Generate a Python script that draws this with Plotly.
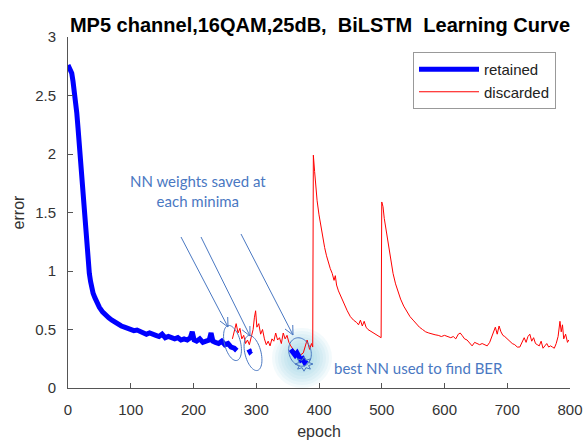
import numpy as np
import plotly.graph_objects as go

# ---------------- data ----------------
ret1_epoch = [0, 2, 4, 6, 8, 10, 12, 14, 16, 18, 20, 22, 24, 26, 28, 30, 32, 34, 36, 38,
              40, 43, 46, 50, 55, 60, 65, 70, 75, 80, 85, 90, 95, 100, 105, 110, 115, 120,
              125, 130, 135, 140, 145, 150, 155, 160, 165, 170, 175, 180, 185, 190, 195,
              198, 201, 205, 210, 215, 220, 225, 228, 231, 235, 240, 245, 250, 255, 260,
              265, 269]
ret1_err = [2.76, 2.74, 2.72, 2.69, 2.62, 2.55, 2.45, 2.35, 2.22, 2.08, 1.95, 1.78, 1.62,
            1.47, 1.33, 1.20, 1.08, 0.98, 0.91, 0.85, 0.81, 0.77, 0.73, 0.69, 0.65, 0.62,
            0.60, 0.58, 0.56, 0.545, 0.53, 0.52, 0.51, 0.50, 0.49, 0.495, 0.48, 0.47, 0.46,
            0.47, 0.455, 0.45, 0.44, 0.46, 0.43, 0.44, 0.43, 0.42, 0.43, 0.41, 0.42, 0.41,
            0.43, 0.48, 0.41, 0.40, 0.42, 0.39, 0.40, 0.41, 0.47, 0.40, 0.39, 0.38, 0.40,
            0.37, 0.38, 0.35, 0.34, 0.32]
ret2_epoch = [288, 290, 292]
ret2_err = [0.33, 0.31, 0.32]
ret3_epoch = [355, 358, 362, 365, 368, 371, 374, 377, 380]
ret3_err = [0.33, 0.30, 0.28, 0.30, 0.26, 0.24, 0.25, 0.22, 0.24]

disc_epoch = [262, 265, 268, 271, 274, 277, 280, 283, 286, 289, 292, 295, 297, 299, 301,
              304, 307, 310, 313, 316, 319, 322, 325, 328, 331, 334, 337, 340, 343, 346,
              349, 352, 355, 360, 365, 370, 375, 381, 385, 388, 390, 391, 393, 395, 397,
              400, 403, 406, 409, 412, 415, 418, 421, 424, 426, 428, 431, 435, 440, 445,
              450, 455, 460, 463, 466, 469, 472, 475, 478, 481, 484, 487, 490, 493, 496,
              499, 500, 502, 504, 507, 510, 514, 518, 522, 526, 530, 535, 540, 545, 550,
              555, 560, 565, 570, 575, 580, 585, 590, 595, 600, 605, 610, 614, 618, 622,
              625, 628, 632, 636, 640, 644, 648, 652, 656, 660, 664, 668, 672, 675, 678,
              681, 684, 687, 690, 693, 696, 700, 704, 708, 712, 716, 720, 724, 727, 730,
              733, 736, 739, 742, 745, 748, 751, 754, 757, 760, 763, 766, 769, 772, 775,
              778, 781, 784, 786, 788, 790, 793, 796, 798]
disc_err = [0.42, 0.50, 0.55, 0.47, 0.51, 0.42, 0.45, 0.38, 0.41, 0.37, 0.44, 0.50, 0.60,
            0.66, 0.52, 0.55, 0.46, 0.50, 0.42, 0.37, 0.40, 0.36, 0.42, 0.40, 0.47, 0.41,
            0.43, 0.38, 0.47, 0.42, 0.45, 0.39, 0.36, 0.32, 0.30, 0.28, 0.30, 0.41, 0.33,
            0.38, 0.35, 1.99, 1.85, 1.70, 1.60, 1.48, 1.38, 1.28, 1.20, 1.13, 1.07, 1.02,
            0.98, 0.92, 0.96, 0.88, 0.83, 0.78, 0.72, 0.66, 0.61, 0.58, 0.56, 0.54, 0.58,
            0.53, 0.57, 0.52, 0.50, 0.49, 0.48, 0.47, 0.46, 0.45, 0.44, 0.43, 1.59, 1.55,
            1.45, 1.35, 1.26, 1.12, 0.98, 0.89, 0.82, 0.76, 0.70, 0.65, 0.61, 0.58, 0.55,
            0.52, 0.50, 0.48, 0.47, 0.46, 0.455, 0.45, 0.44, 0.45, 0.44, 0.43, 0.44, 0.42,
            0.46, 0.47, 0.45, 0.42, 0.41, 0.38, 0.36, 0.39, 0.38, 0.37, 0.38, 0.37, 0.36,
            0.39, 0.44, 0.48, 0.52, 0.46, 0.53, 0.48, 0.45, 0.44, 0.42, 0.40, 0.38, 0.37,
            0.35, 0.35, 0.40, 0.43, 0.39, 0.44, 0.46, 0.40, 0.43, 0.38, 0.37, 0.36, 0.40,
            0.34, 0.36, 0.38, 0.35, 0.36, 0.35, 0.34, 0.38, 0.44, 0.57, 0.48, 0.54, 0.42,
            0.46, 0.39, 0.41]

x_ticks = [0, 100, 200, 300, 400, 500, 600, 700, 800]
y_ticks = [0, 0.5, 1, 1.5, 2, 2.5, 3]
y_tick_text = ["0", "0.5", "1", "1.5", "2", "2.5", "3"]

title_text = "MP5 channel,16QAM,25dB,\u00a0\u00a0BiLSTM\u00a0\u00a0Learning Curve"
note1 = "NN weights saved at<br>each minima"
note2 = "best NN used to find BER"

# ---------------- layout geometry ----------------
W, H = 586, 443
L, R, T, B = 68, 16, 37, 55
X0, X1 = 0, 800
Y0, Y1 = 0, 3
pw, ph = W - L - R, H - T - B


def dx(px):
    return X0 + (px - L) / pw * (X1 - X0)


def dy(py):
    return Y0 + (H - B - py) / ph * (Y1 - Y0)


ANN = "#4A78C2"

fig = go.Figure()

fig.add_trace(go.Scatter(x=disc_epoch, y=disc_err, mode="lines", name="discarded",
                         line=dict(color="#FF0000", width=1), legendrank=2))

ret_x = ret1_epoch + [None] + ret2_epoch + [None] + ret3_epoch
ret_y = ret1_err + [None] + ret2_err + [None] + ret3_err
fig.add_trace(go.Scatter(x=ret_x, y=ret_y, mode="lines", name="retained",
                         line=dict(color="#0000FF", width=5), legendrank=1))

shapes = []
# glow behind best NN
for r in range(30, 2, -3):
    shapes.append(dict(type="circle", xref="x", yref="y", xsizemode="pixel", ysizemode="pixel",
                       xanchor=dx(302), yanchor=dy(358), x0=-r, x1=r, y0=-r, y1=r,
                       fillcolor="rgba(120,205,225,0.09)", line=dict(width=0), layer="below"))

# arrows
arrows = [((181, 237), (228, 327)), ((201, 237), (250, 336)), ((241, 234), (293, 335))]
for (tx, ty), (hx, hy) in arrows:
    shapes.append(dict(type="line", xref="x", yref="y", x0=dx(tx), y0=dy(ty), x1=dx(hx), y1=dy(hy),
                       line=dict(color=ANN, width=1)))
    ang = np.arctan2(hy - ty, hx - tx)
    for s in (+1, -1):
        a2 = ang + np.pi + s * 0.45
        ex, ey = hx + 10 * np.cos(a2), hy + 10 * np.sin(a2)
        shapes.append(dict(type="line", xref="x", yref="y", x0=dx(hx), y0=dy(hy), x1=dx(ex), y1=dy(ey),
                           line=dict(color=ANN, width=1)))

# ellipses
ellipses = [((232.5, 343), 8, 18, -0.25), ((253, 353), 8, 18, -0.25), ((300, 352), 11, 14.5, -0.3)]
t = np.linspace(0, 2 * np.pi, 60)
for (cx, cy), a, b, rot in ellipses:
    xs = cx + a * np.cos(t) * np.cos(rot) - b * np.sin(t) * np.sin(rot)
    ys = cy + a * np.cos(t) * np.sin(rot) + b * np.sin(t) * np.cos(rot)
    path = "M" + " L".join(f"{dx(xx):.3f},{dy(yy):.4f}" for xx, yy in zip(xs, ys)) + " Z"
    shapes.append(dict(type="path", xref="x", yref="y", path=path, line=dict(color=ANN, width=1)))

# starburst
ang = np.linspace(0, 2 * np.pi, 17)
rad = np.where(np.arange(17) % 2 == 0, 9, 5)
sx = 304 + rad * np.cos(ang)
sy = 364 + rad * np.sin(ang) * 0.8
path = "M" + " L".join(f"{dx(xx):.3f},{dy(yy):.4f}" for xx, yy in zip(sx, sy)) + " Z"
shapes.append(dict(type="path", xref="x", yref="y", path=path, line=dict(color=ANN, width=1)))

annotations = [
    dict(x=dx(198), y=dy(191), xref="x", yref="y", text=note1, showarrow=False,
         font=dict(family="Lato", size=15, color=ANN), align="center"),
    dict(x=dx(332), y=dy(368), xref="x", yref="y", text=note2, showarrow=False, xanchor="left",
         font=dict(family="Lato", size=15, color=ANN)),
]

axis_font = dict(family="Liberation Sans", size=15, color="#333333")
fig.update_layout(
    width=W, height=H, margin=dict(l=L, r=R, t=T, b=B, autoexpand=False),
    paper_bgcolor="white", plot_bgcolor="white",
    title=dict(text=title_text, x=320 / W, xanchor="center", y=1 - 25 / H, yanchor="middle",
               yref="container", xref="container",
               font=dict(family="Liberation Sans", size=20, color="black", weight="bold")),
    xaxis=dict(range=[X0, X1], tickvals=x_ticks, ticks="inside", ticklen=5, tickcolor="#555555",
               showline=True, linecolor="#555555", linewidth=1, showgrid=False, zeroline=False,
               tickfont=axis_font, ticklabelstandoff=8, automargin=False,
               title=dict(text="epoch", font=dict(family="Liberation Sans", size=16, color="#333333"),
                          standoff=8)),
    yaxis=dict(range=[Y0, Y1], tickvals=y_ticks, ticktext=y_tick_text, ticks="inside", ticklen=5,
               tickcolor="#555555", showline=True, linecolor="#555555", linewidth=1, showgrid=False,
               zeroline=False, tickfont=axis_font, ticklabelstandoff=8, automargin=False,
               title=dict(text="error", font=dict(family="Liberation Sans", size=16, color="#333333"),
                          standoff=6)),
    legend=dict(x=(556 - L) / pw, y=(H - B - 52) / ph, xanchor="right", yanchor="top",
                bgcolor="white", bordercolor="#999999", borderwidth=1,
                font=dict(family="Liberation Sans", size=15, color="#222222"),
                tracegroupgap=0, itemwidth=60),
    shapes=shapes, annotations=annotations, showlegend=True,
)

fig.write_html("out.html")
